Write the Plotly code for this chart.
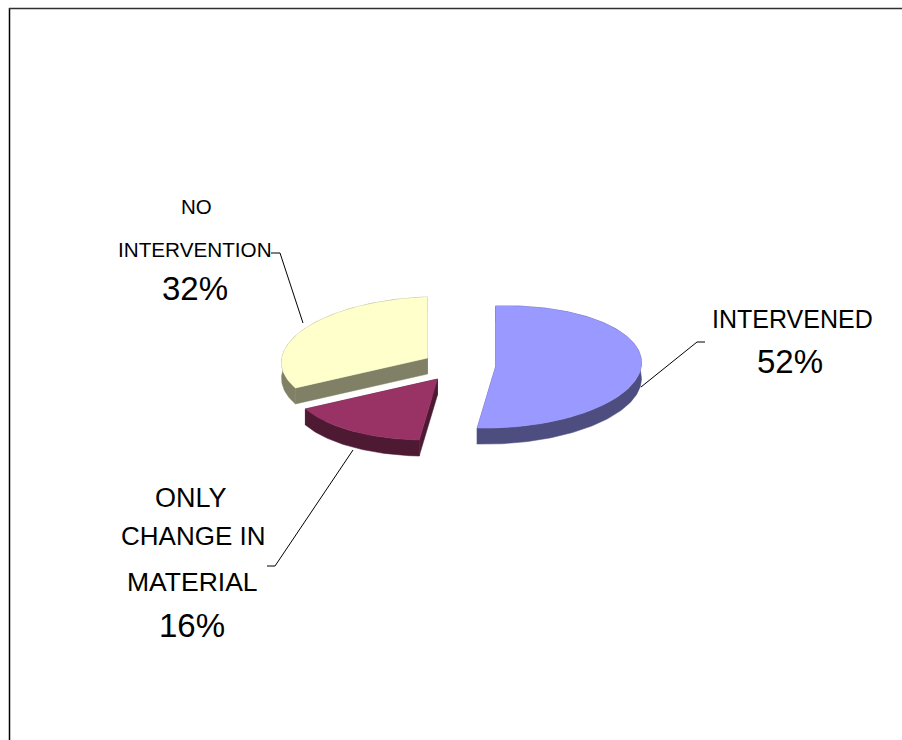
import numpy as np
import plotly.graph_objects as go

categories = ["INTERVENED", "ONLY CHANGE IN MATERIAL", "NO INTERVENTION"]
values = [52, 16, 32]
percent_labels = ["52%", "16%", "32%"]
top_colors = ["#9999FF", "#993366", "#FFFFCC"]
side_colors = ["#4D4D80", "#4D1933", "#808066"]

centers = [(495.5, 367), (437.5, 379), (427.5, 358)]
RX, RY, DEPTH, TILT = 146, 61, 16, 0.03


def rim(cx, cy, a0, a1):
    t = np.radians(np.linspace(a0, a1, max(int(a1 - a0), 2) + 1))
    dx = RX * np.sin(t)
    return cx + dx, cy - RY * np.cos(t) - TILT * dx


fig = go.Figure()


def poly(x, y, color):
    fig.add_trace(go.Scatter(x=list(x) + [x[0]], y=list(y) + [y[0]], mode="lines",
                             fill="toself", fillcolor=color,
                             line=dict(color=color, width=0.5),
                             hoverinfo="skip", showlegend=False))


total = sum(values)
start = 0.0
for val, (cx, cy), top, side in zip(values, centers, top_colors, side_colors):
    end = start + val / total * 360
    rx, ry = rim(cx, cy, start, end)
    # cut faces
    for ex, ey in ((rx[0], ry[0]), (rx[-1], ry[-1])):
        poly([cx, ex, ex, cx], [cy, ey, ey + DEPTH, cy + DEPTH], side)
    # outer wall
    poly(np.r_[rx, rx[::-1]], np.r_[ry, ry[::-1] + DEPTH], side)
    # top face
    poly(np.r_[cx, rx], np.r_[cy, ry], top)
    start = end

# leader lines
leaders = [
    ([641, 697, 705], [387, 342, 342]),
    ([353, 275, 267], [450, 566, 566]),
    ([271, 280, 303], [253, 253, 323]),
]
for lx, ly in leaders:
    fig.add_trace(go.Scatter(x=lx, y=ly, mode="lines", line=dict(color="#000000", width=1),
                             hoverinfo="skip", showlegend=False))

# text
labels = [
    ("INTERVENED", 792, 319, 25), (percent_labels[0], 790, 361, 33),
    ("ONLY", 191, 498, 27), ("CHANGE IN", 193, 536, 26), ("MATERIAL", 192, 582, 26.5),
    (percent_labels[1], 192, 625, 33),
    ("NO", 196, 206, 20.5), ("INTERVENTION", 195, 249, 20.7), (percent_labels[2], 195, 288, 33),
]
for text, x, y, size in labels:
    fig.add_annotation(x=x, y=y, text=text, showarrow=False, xanchor="center", yanchor="middle",
                       font=dict(family="Liberation Sans", size=size, color="#000000"))

# frame
fig.add_shape(type="line", x0=9.5, x1=9.5, y0=8, y1=740, line=dict(color="#000000", width=1.5))
fig.add_shape(type="line", x0=9, x1=902, y0=8.5, y1=8.5, line=dict(color="#303030", width=1.5))

fig.update_layout(
    width=902, height=740, margin=dict(l=0, r=0, t=0, b=0),
    paper_bgcolor="#FFFFFF", plot_bgcolor="#FFFFFF", showlegend=False,
    xaxis=dict(range=[0, 902], visible=False, fixedrange=True),
    yaxis=dict(range=[740, 0], visible=False, fixedrange=True),
)
fig.write_html("out.html", post_script="document.body.style.margin='0';", config={"displayModeBar": False})
